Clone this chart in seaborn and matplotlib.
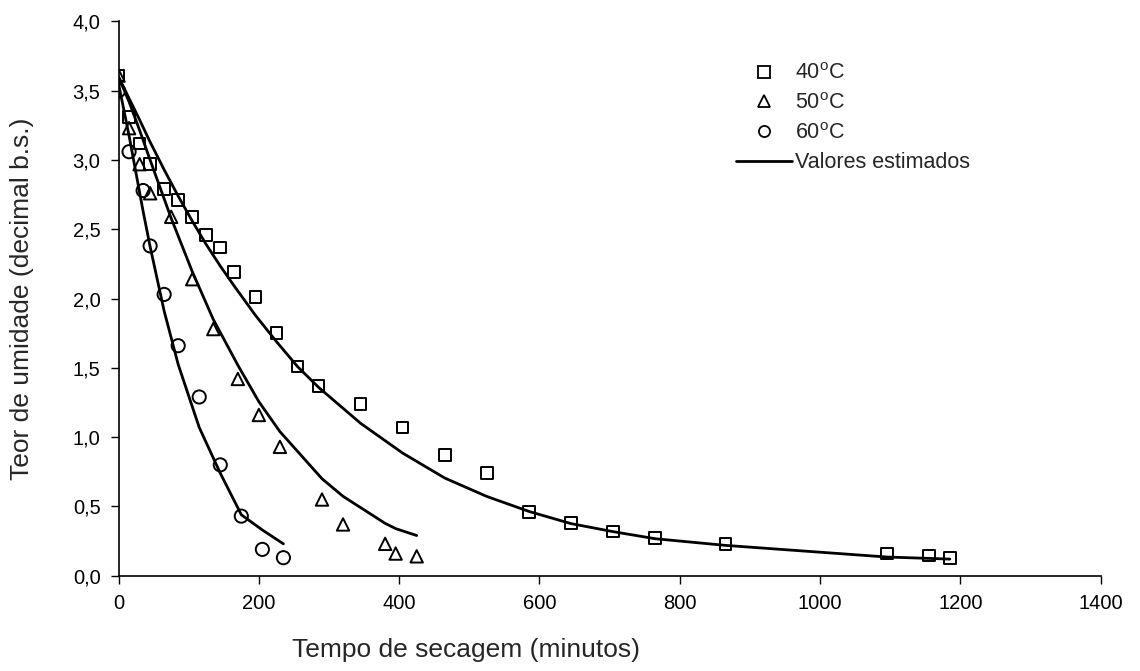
"""
Drying curves: moisture content vs drying time at 40, 50 and 60 C,
observed points plus the estimated (model) curves.
"""

import matplotlib
matplotlib.use("Agg")
import matplotlib.pyplot as plt
import pandas as pd
import seaborn as sns
from matplotlib.lines import Line2D
from matplotlib.ticker import FuncFormatter

# observed data (minutes, decimal b.s.)
T40 = [0, 15, 30, 45, 65, 85, 105, 125, 145, 165, 195, 225, 255, 285, 345,
       405, 465, 525, 585, 645, 705, 765, 865, 1095, 1155, 1185]
Y40 = [3.61, 3.31, 3.12, 2.97, 2.79, 2.71, 2.59, 2.46, 2.37, 2.19, 2.01, 1.75,
       1.51, 1.37, 1.24, 1.07, 0.87, 0.74, 0.46, 0.38, 0.32, 0.27, 0.23, 0.16,
       0.145, 0.13]

T50 = [0, 15, 30, 45, 75, 105, 135, 170, 200, 230, 290, 320, 380, 395, 425]
Y50 = [3.61, 3.23, 2.97, 2.76, 2.59, 2.14, 1.78, 1.42, 1.16, 0.93, 0.55, 0.37,
       0.23, 0.16, 0.14]

T60 = [0, 15, 35, 45, 65, 85, 115, 145, 175, 205, 235]
Y60 = [3.50, 3.06, 2.78, 2.38, 2.03, 1.66, 1.29, 0.80, 0.43, 0.19, 0.13]

# estimated values at the same times
FIT40 = [3.60, 3.445, 3.29, 3.13, 2.93, 2.74, 2.56, 2.39, 2.235, 2.09, 1.88,
         1.69, 1.51, 1.36, 1.10, 0.885, 0.705, 0.572, 0.464, 0.376, 0.318,
         0.267, 0.219, 0.135, 0.125, 0.12]
FIT50 = [3.60, 3.42, 3.215, 3.00, 2.58, 2.196, 1.85, 1.52, 1.256, 1.04, 0.70,
         0.573, 0.378, 0.34, 0.29]
FIT60 = [3.55, 3.175, 2.63, 2.375, 1.91, 1.525, 1.07, 0.74, 0.44, 0.33, 0.23]

X_TICKS = [0, 200, 400, 600, 800, 1000, 1200, 1400]
Y_TICKS = [0.0, 0.5, 1.0, 1.5, 2.0, 2.5, 3.0, 3.5, 4.0]

SERIES = [("40$^{\\rm o}$C", T40, Y40, FIT40, "s", 70),
          ("50$^{\\rm o}$C", T50, Y50, FIT50, "^", 80),
          ("60$^{\\rm o}$C", T60, Y60, FIT60, "o", 90)]

sns.set_style("ticks")
plt.rcParams["font.family"] = ["Liberation Sans", "DejaVu Sans"]
plt.rcParams["mathtext.fontset"] = "custom"
plt.rcParams["mathtext.rm"] = "Liberation Sans"

fig = plt.figure(figsize=(11.4, 6.71), dpi=100)
ax = fig.add_axes([0.104, 0.142, 0.8615, 0.826])

for label, t, y, fit, marker, size in SERIES:
    df = pd.DataFrame({"t": t, "y": y, "fit": fit})
    sns.lineplot(data=df, x="t", y="fit", color="black", lw=2.0,
                 estimator=None, sort=False, ax=ax, zorder=2)
    sns.scatterplot(data=df, x="t", y="y", marker=marker, s=size,
                    facecolors="none", edgecolors="black", linewidths=1.4,
                    ax=ax, zorder=3)

ax.set_xlim(0, 1400)
ax.set_ylim(0, 4.0)
ax.set_xticks(X_TICKS)
ax.set_yticks(Y_TICKS)
ax.yaxis.set_major_formatter(FuncFormatter(lambda v, _: f"{v:.1f}".replace(".", ",")))
ax.tick_params(direction="out", length=6, width=1.0, colors="black",
               labelsize=14.5)
ax.tick_params(axis="x", pad=7)
ax.tick_params(axis="y", pad=7)
for side in ("top", "right"):
    ax.spines[side].set_visible(False)
for side in ("left", "bottom"):
    ax.spines[side].set_linewidth(1.2)
    ax.spines[side].set_color("black")

ax.set_xlabel("Tempo de secagem (minutos)", fontsize=19, labelpad=18)
ax.xaxis.label.set_x(0.354)
ax.set_ylabel("Teor de umidade (decimal b.s.)", fontsize=19, labelpad=28)

handles = [Line2D([], [], ls="none", marker=m, ms=8, mfc="none", mec="black",
                  mew=1.3) for _, _, _, _, m, _ in SERIES]
handles.append(Line2D([], [], color="black", lw=2.0))
labels = [s[0] for s in SERIES] + ["Valores estimados"]
ax.legend(handles, labels, loc="upper left", bbox_to_anchor=(0.6195, 0.94),
          frameon=False, fontsize=15.5, handlelength=2.6, handletextpad=0.15,
          labelspacing=0.4, borderaxespad=0)

fig.savefig("out.png", dpi=100)
